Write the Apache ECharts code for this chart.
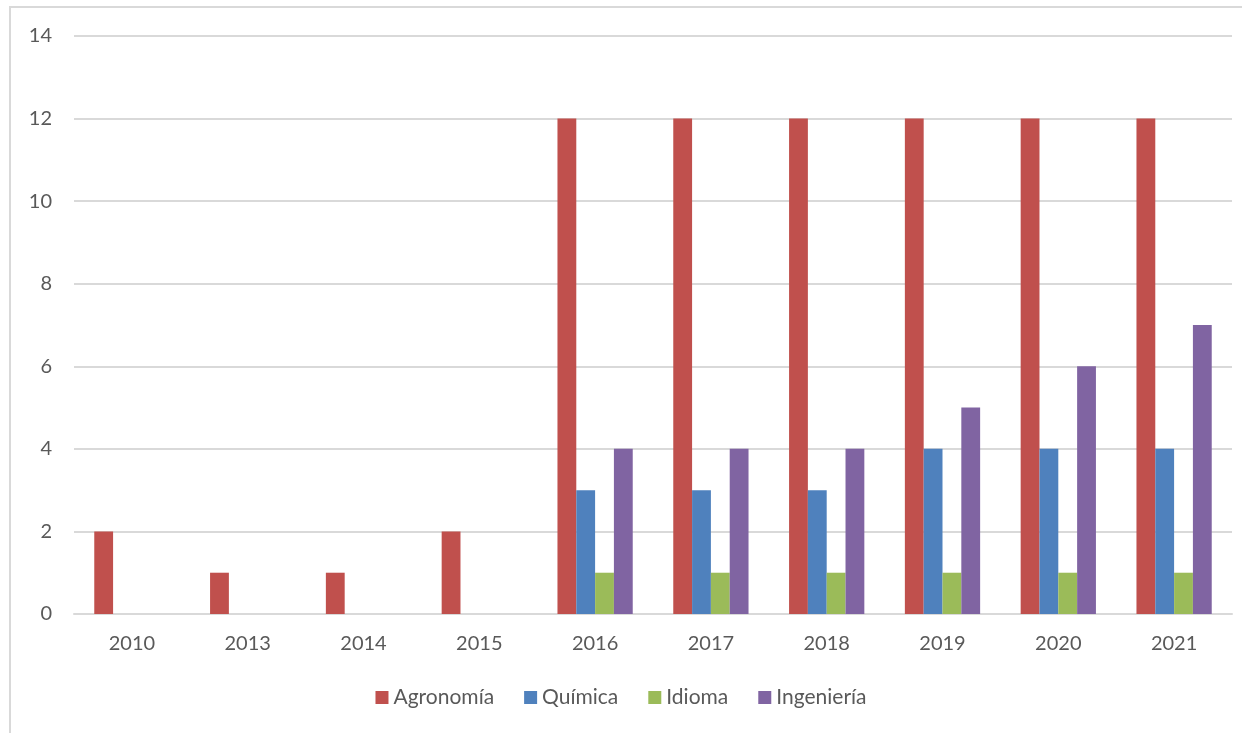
<!DOCTYPE html>
<html>
<head>
<meta charset="utf-8">
<script src="https://cdn.jsdelivr.net/npm/echarts@6/dist/echarts.min.js"></script>
<style>
	html, body { margin: 0; padding: 0; background: #fff; }
	#chart { width: 1242px; height: 733px; }
</style>
</head>
<body>
<div id="chart"></div>
<script>
const years = ['2010', '2013', '2014', '2015', '2016', '2017', '2018', '2019', '2020', '2021']
const seriesNames = ['Agronomía', 'Química', 'Idioma', 'Ingeniería']
const agronomia = [2, 1, 1, 2, 12, 12, 12, 12, 12, 12]
const quimica = [0, 0, 0, 0, 3, 3, 3, 4, 4, 4]
const idioma = [0, 0, 0, 0, 1, 1, 1, 1, 1, 1]
const ingenieria = [0, 0, 0, 0, 4, 4, 4, 5, 6, 7]
const colorPalette = ['#C0504D', '#4F81BD', '#9BBB59', '#8064A2']

chartMain = () => {
	var chart = echarts.init(document.getElementById('chart'))
	var allValues = [agronomia, quimica, idioma, ingenieria]
	var textStyle = { color: '#595959', fontFamily: 'Lato', fontSize: 20 }

	var option = {
		animation: false,
		color: colorPalette,
		graphic: [
			{
				type: 'rect',
				shape: { x: 10, y: 7, width: 1250, height: 740 },
				style: { fill: 'none', stroke: '#D9D9D9', lineWidth: 2 },
			},
		],
		grid: { left: 74, right: 10, top: 36, bottom: 119 },
		legend: {
			bottom: 20,
			left: 'center',
			icon: 'rect',
			itemWidth: 13,
			itemHeight: 13,
			itemGap: 30,
			textStyle: Object.assign({}, textStyle, { fontSize: 21 }),
			data: seriesNames,
		},
		xAxis: {
			type: 'category',
			data: years,
			axisLine: { lineStyle: { color: '#D9D9D9', width: 2 } },
			axisTick: { show: false },
			axisLabel: Object.assign({ margin: 20 }, textStyle),
		},
		yAxis: {
			type: 'value',
			min: 0,
			max: 14,
			interval: 2,
			axisLine: { show: false },
			axisTick: { show: false },
			axisLabel: Object.assign({ margin: 22 }, textStyle),
			splitLine: { lineStyle: { color: '#D9D9D9', width: 2 } },
		},
		series: seriesNames.map(function (name, i) {
			return {
				name: name,
				type: 'bar',
				barGap: 0,
				barCategoryGap: '35%',
				data: allValues[i],
			}
		}),
	}

	chart.setOption(option)
}

chartMain()
</script>
</body>
</html>
